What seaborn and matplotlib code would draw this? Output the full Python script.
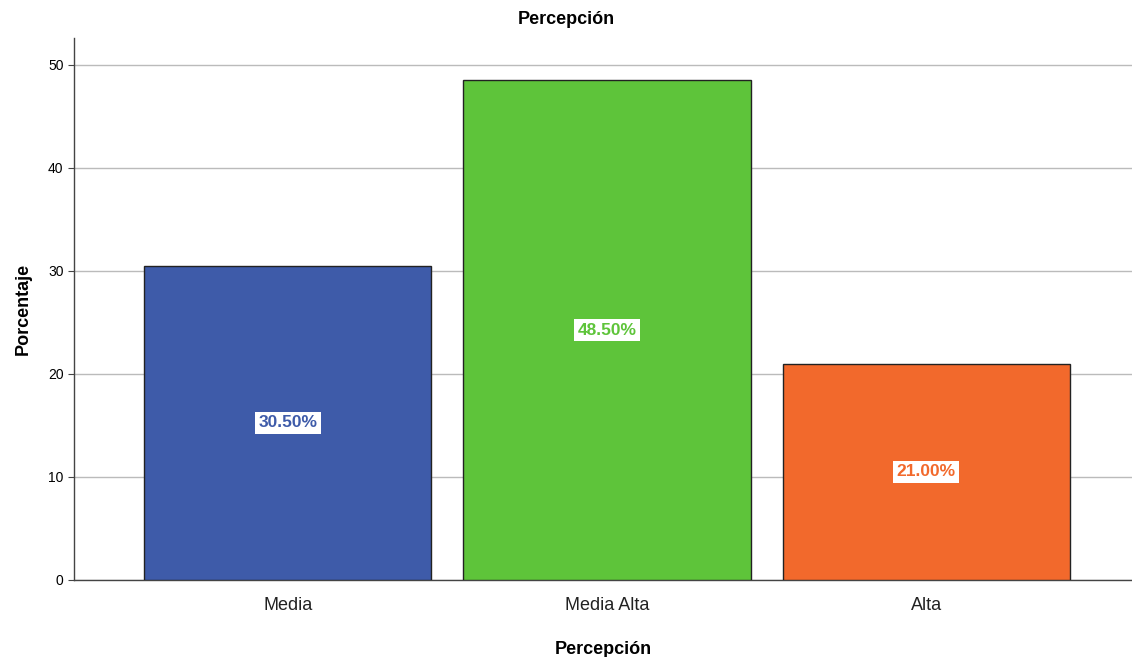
import matplotlib.pyplot as plt
import seaborn as sns
import pandas as pd

categories = ['Media', 'Media Alta', 'Alta']
percentages = [30.5, 48.5, 21.0]
colors = ['#3E5BA9', '#5EC43A', '#F2692C']

df = pd.DataFrame({'Percepción': categories, 'Porcentaje': percentages})

sns.set_style('white')
plt.rcParams['font.family'] = ['Liberation Sans', 'DejaVu Sans']
plt.rcParams['text.color'] = 'black'
plt.rcParams['axes.labelcolor'] = 'black'
plt.rcParams['xtick.color'] = 'black'
plt.rcParams['ytick.color'] = 'black'

fig = plt.figure(figsize=(11.32, 6.57), dpi=100)
ax = fig.add_axes([0.0654, 0.1172, 0.9346, 0.825])

sns.barplot(data=df, x='Percepción', y='Porcentaje', hue='Percepción',
            palette=colors, saturation=1, width=0.9, edgecolor='#222222',
            linewidth=1, legend=False, ax=ax, zorder=3)

ax.set_xlim(-0.67, 2.645)
ax.set_ylim(0, 52.6)
ax.set_yticks([0, 10, 20, 30, 40, 50])
ax.yaxis.grid(True, color='#BBBBBB', linewidth=1)
ax.set_axisbelow(True)
ax.tick_params(axis='y', labelsize=10, length=4, color='#444444', left=True)
ax.tick_params(axis='x', labelsize=13, length=0, pad=12, labelcolor='#222222')
for s in ['top', 'right']:
    ax.spines[s].set_visible(False)
for s in ['left', 'bottom']:
    ax.spines[s].set_color('#444444')
    ax.spines[s].set_linewidth(1)

# title sits over the middle of the whole figure
fig.text(0.5, 0.97, 'Percepción', ha='center', va='center', fontsize=13,
         fontweight='bold', color='black')
ax.set_xlabel('Percepción', fontsize=13, fontweight='bold', labelpad=20)
ax.set_ylabel('Porcentaje', fontsize=13, fontweight='bold', labelpad=12)

for i, (v, c) in enumerate(zip(percentages, colors)):
    ax.text(i, v / 2, f'{v:.2f}%', ha='center', va='center', fontsize=12.5,
            fontweight='bold', color=c,
            family=['Liberation Sans Narrow', 'Liberation Sans', 'DejaVu Sans'],
            bbox=dict(facecolor='white', edgecolor='none', pad=2.5), zorder=5)

fig.savefig('out.png', dpi=100)
